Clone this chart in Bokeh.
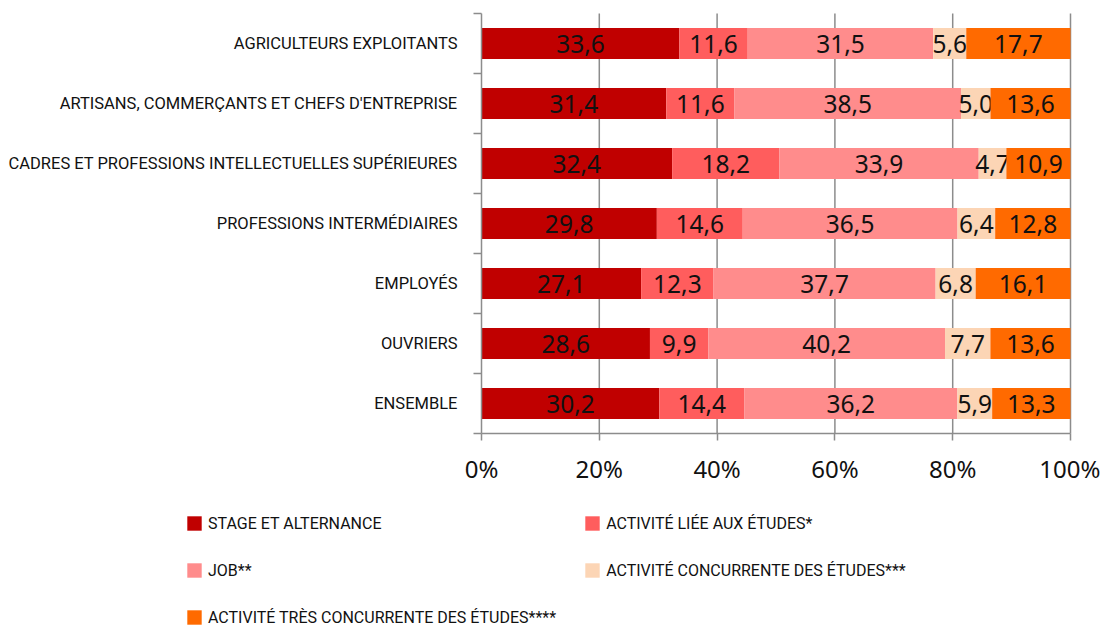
from bokeh.plotting import figure
from bokeh.models import (ColumnDataSource, FixedTicker, PrintfTickFormatter, Legend, LegendItem, Range1d)
from bokeh.core.properties import value
from bokeh.embed import file_html
from bokeh.resources import INLINE

categories = ["AGRICULTEURS EXPLOITANTS",
              "ARTISANS, COMMERÇANTS ET CHEFS D'ENTREPRISE",
              "CADRES ET PROFESSIONS INTELLECTUELLES SUPÉRIEURES",
              "PROFESSIONS INTERMÉDIAIRES",
              "EMPLOYÉS",
              "OUVRIERS",
              "ENSEMBLE"]
series_names = ["STAGE ET ALTERNANCE",
                "ACTIVITÉ LIÉE AUX ÉTUDES*",
                "JOB**",
                "ACTIVITÉ CONCURRENTE DES ÉTUDES***",
                "ACTIVITÉ TRÈS CONCURRENTE DES ÉTUDES****"]
stage = [33.6, 31.4, 32.4, 29.8, 27.1, 28.6, 30.2]
liee = [11.6, 11.6, 18.2, 14.6, 12.3, 9.9, 14.4]
job = [31.5, 38.5, 33.9, 36.5, 37.7, 40.2, 36.2]
concurrente = [5.6, 5.0, 4.7, 6.4, 6.8, 7.7, 5.9]
tres_concurrente = [17.7, 13.6, 10.9, 12.8, 16.1, 13.6, 13.3]
x_ticks = [0, 20, 40, 60, 80, 100]

series = [stage, liee, job, concurrente, tres_concurrente]
colors = ["#C00000", "#FF5D5D", "#FF8C8C", "#FCD5B5", "#FF6A00"]

n = len(categories)
ypos = [n - 0.5 - i for i in range(n)]  # first category on top
totals = [sum(s[i] for s in series) for i in range(n)]

FONT_NUM = "Noto Sans"
FONT_CAT = "Roboto"
GRAY = "#8C8C8C"

W, H = 1100, 625
X0, X1 = 481, 1070      # pixel span of 0%..100%
Y_TOP, ROW = 13, 60     # top of the category band, pixels per category
px_per_x = (X1 - X0) / 100.0
x_start = -X0 / px_per_x
x_end = 100 + (W - X1) / px_per_x
y_end = n + Y_TOP / ROW
y_start = n - (H - Y_TOP) / ROW

p = figure(width=W, height=H, output_backend="svg", toolbar_location=None,
           x_range=Range1d(x_start, x_end), y_range=Range1d(y_start, y_end),
           min_border=0, min_border_left=0, min_border_right=0,
           min_border_top=0, min_border_bottom=0)
p.outline_line_color = None
p.xgrid.grid_line_color = None
p.ygrid.grid_line_color = None

# vertical grid lines, limited to the bar band
p.segment(x0=x_ticks[1:], x1=x_ticks[1:], y0=0, y1=n, line_color=GRAY, line_width=1.5, level="underlay")

renderers = []
left = [0.0] * n
for k, s in enumerate(series):
    lefts = [left[i] for i in range(n)]
    rights = [left[i] + s[i] * 100.0 / totals[i] for i in range(n)]
    src = ColumnDataSource(dict(y=ypos, left=lefts, right=rights,
                                mid=[(a + b) / 2 for a, b in zip(lefts, rights)],
                                lab=[("%.1f" % v).replace(".", ",") for v in s]))
    r = p.hbar(y="y", left="left", right="right", height=0.52, source=src,
               fill_color=colors[k], line_color=None)
    p.text(x="mid", y="y", text="lab", source=src, text_align="center", text_baseline="middle",
           text_font=value(FONT_NUM), text_font_size="24.5px", text_color="#111111")
    renderers.append(r)
    left = rights

# x axis at y = 0
xa = p.xaxis[0]
xa.fixed_location = 0
xa.bounds = (0, 100)
xa.ticker = FixedTicker(ticks=x_ticks)
xa.formatter = PrintfTickFormatter(format="%d%%")
xa.axis_line_color = GRAY
xa.axis_line_width = 1.5
xa.major_tick_line_color = GRAY
xa.major_tick_line_width = 1.5
xa.major_tick_in = 0
xa.major_tick_out = 7
xa.minor_tick_line_color = None
xa.major_label_text_font = FONT_NUM
xa.major_label_text_font_size = "24px"
xa.major_label_text_color = "#111111"
xa.major_label_standoff = 11

# y axis at x = 0
ya = p.yaxis[0]
ya.fixed_location = 0
ya.bounds = (0, n)
ya.ticker = FixedTicker(ticks=ypos, minor_ticks=list(range(n + 1)))
ya.major_label_overrides = {y: c for y, c in zip(ypos, categories)}
ya.axis_line_color = GRAY
ya.axis_line_width = 1.5
ya.major_tick_line_color = None
ya.major_tick_in = 0
ya.major_tick_out = 0
ya.minor_tick_line_color = GRAY
ya.minor_tick_line_width = 1.5
ya.minor_tick_in = 0
ya.minor_tick_out = 8
ya.major_label_text_font = FONT_CAT
ya.major_label_text_font_size = "16.5px"
ya.major_label_text_color = "#111111"
ya.major_label_standoff = 16

legend = Legend(items=[LegendItem(label=series_names[k], renderers=[renderers[k]]) for k in range(5)],
                location=(185, -2), orientation="horizontal", ncols=2,
                glyph_width=18, glyph_height=18, label_standoff=5, label_width=300,
                label_height=20, spacing=27, padding=0, margin=0,
                border_line_color=None, background_fill_alpha=0,
                label_text_font=FONT_CAT, label_text_font_size="16px", label_text_color="#111111")
p.add_layout(legend, "center")

open("out.html", "w").write(file_html(p, INLINE))
